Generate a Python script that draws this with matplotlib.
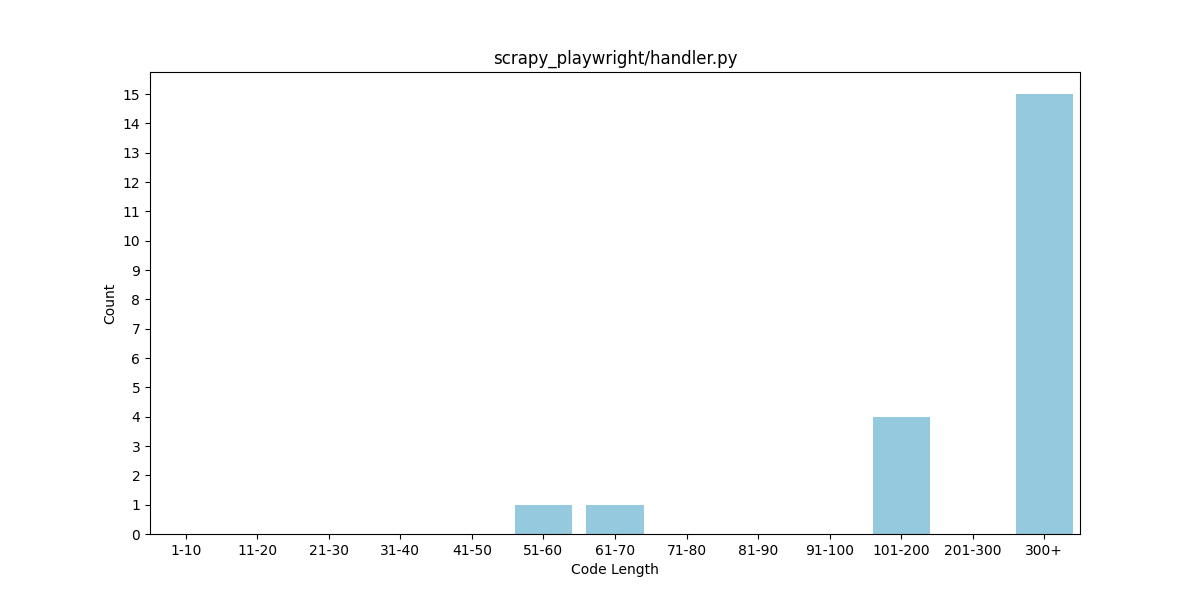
import matplotlib
matplotlib.use("Agg")
import matplotlib.pyplot as plt
import seaborn as sns

categories = ["1-10", "11-20", "21-30", "31-40", "41-50", "51-60", "61-70",
              "71-80", "81-90", "91-100", "101-200", "201-300", "300+"]
counts = [0, 0, 0, 0, 0, 1, 1, 0, 0, 0, 4, 0, 15]

fig = plt.figure(figsize=(12, 6), dpi=100)
ax = sns.barplot(x=categories, y=counts, color="skyblue")
ax.set_yticks(range(0, 16))
ax.set_title("scrapy_playwright/handler.py")
ax.set_xlabel("Code Length")
ax.set_ylabel("Count")
plt.savefig("out.png")
